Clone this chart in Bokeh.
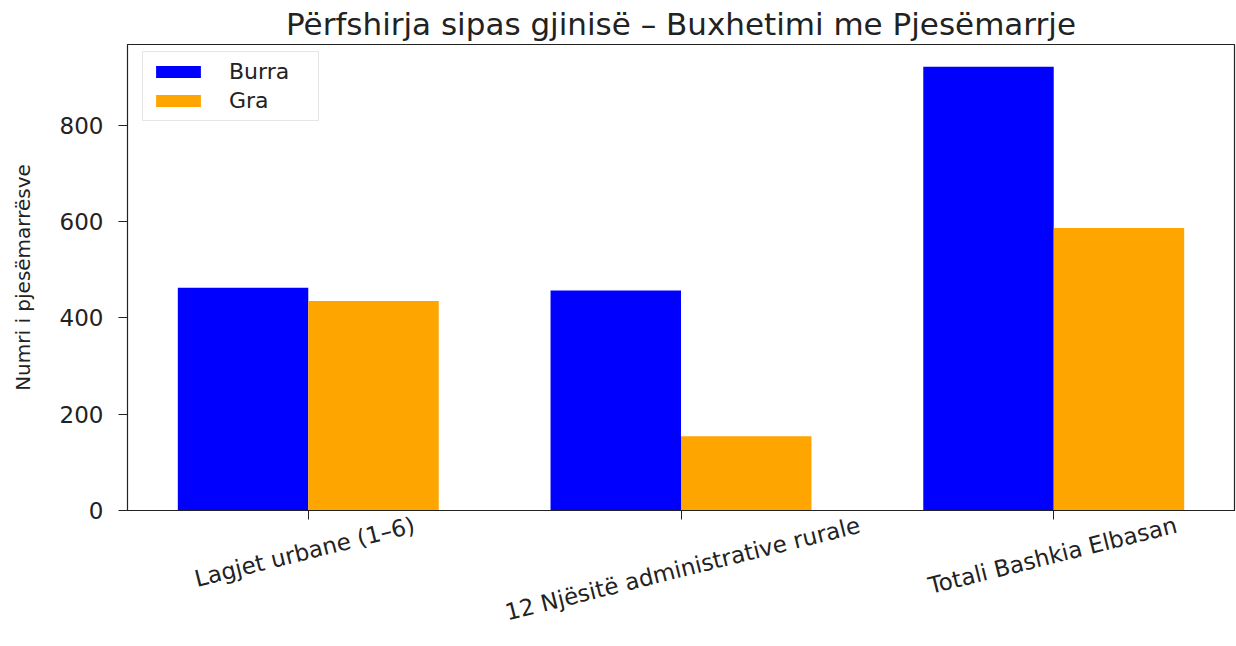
import math
from bokeh.plotting import figure
from bokeh.models import Range1d, FixedTicker, Legend, LegendItem, ColumnDataSource, LinearAxis
from bokeh.embed import file_html
from bokeh.resources import INLINE

# ---- data ----
categories = ["Lagjet urbane (1–6)", "12 Njësitë administrative rurale", "Totali Bashkia Elbasan"]
burra = [463, 457, 922]
gra = [435, 154, 587]
y_ticks = [0, 200, 400, 600, 800]
series_names = ["Burra", "Gra"]
colors = ["#0000ff", "#ffa500"]

FONT = "DejaVu Sans"
TXT = "#222222"
W, H = 1236, 646
BL, BR, BT, BB = 127, 2, 44, 136
bar_w = 0.35
n = len(categories)
idx = list(range(n))

x_lo = -bar_w - 0.05 * (n - 1 + 2 * bar_w)
x_hi = (n - 1) + bar_w + 0.05 * (n - 1 + 2 * bar_w)
y_hi = max(burra + gra) * 1.05

p = figure(width=W, height=H, output_backend="svg", toolbar_location=None,
           x_range=Range1d(x_lo, x_hi), y_range=Range1d(0, y_hi),
           min_border_left=BL, min_border_right=BR, min_border_top=BT, min_border_bottom=BB,
           title="Përfshirja sipas gjinisë – Buxhetimi me Pjesëmarrje")

p.title.align = "center"
p.title.text_font = FONT
p.title.text_font_size = "31px"
p.title.text_font_style = "normal"
p.title.text_color = TXT
p.title.standoff = 6

src_b = ColumnDataSource(dict(x=[i - bar_w / 2 for i in idx], top=burra))
src_g = ColumnDataSource(dict(x=[i + bar_w / 2 for i in idx], top=gra))
rb = p.vbar(x="x", top="top", width=bar_w, source=src_b, fill_color=colors[0], line_color=None)
rg = p.vbar(x="x", top="top", width=bar_w, source=src_g, fill_color=colors[1], line_color=None)

p.xgrid.visible = False
p.ygrid.visible = False
p.outline_line_color = TXT
p.outline_line_width = 1.2
p.background_fill_color = "white"
p.border_fill_color = "white"

# y axis
yax = p.yaxis[0]
yax.ticker = FixedTicker(ticks=y_ticks)
yax.minor_tick_line_color = None
yax.major_tick_in = 0
yax.major_tick_out = 9
yax.major_label_standoff = 15
yax.major_label_text_font = FONT
yax.major_label_text_font_size = "23px"
yax.major_label_text_color = TXT
yax.axis_line_color = TXT
yax.major_tick_line_color = TXT
yax.axis_label = "Numri i pjesëmarrësve"
yax.axis_label_text_font = FONT
yax.axis_label_text_font_size = "20px"
yax.axis_label_text_font_style = "normal"
yax.axis_label_text_color = TXT
yax.axis_label_standoff = 22

# x axis: tick marks only
xax = p.xaxis[0]
xax.ticker = FixedTicker(ticks=idx)
xax.major_label_overrides = {i: "" for i in idx}
xax.major_label_text_font_size = "0px"
xax.major_label_standoff = 0
xax.minor_tick_line_color = None
xax.major_tick_in = 0
xax.major_tick_out = 9
xax.axis_line_color = TXT
xax.major_tick_line_color = TXT

# category labels: rotated, centred under the ticks (Bokeh anchors rotated
# labels at their top-right corner, so shift the anchor by half the extent)
fs = 23
ang = math.radians(14)
px_per_unit = (W - BL - BR) / (x_hi - x_lo)
lab_ticks = []
overrides = {}
for i, c in enumerate(categories):
    L = len(c) * 0.5 * fs
    shift_px = L * math.cos(ang) / 2
    t = round(i + shift_px / px_per_unit, 6)
    lab_ticks.append(t)
    overrides[t] = c

cax = LinearAxis(ticker=FixedTicker(ticks=lab_ticks), major_label_overrides=overrides,
                 major_label_orientation=ang, major_label_text_font=FONT,
                 major_label_text_font_size=f"{fs}px", major_label_text_color=TXT,
                 major_label_standoff=5, major_tick_in=0, major_tick_out=0,
                 minor_tick_line_color=None, major_tick_line_color=None, axis_line_color=None)
p.add_layout(cax, "below")

legend = Legend(items=[LegendItem(label=series_names[0], renderers=[rb]),
                       LegendItem(label=series_names[1], renderers=[rg])],
                location=(15, 389), glyph_width=56, glyph_height=15, label_standoff=23,
                label_width=82, padding=7, spacing=4, label_text_font=FONT,
                label_text_font_size="22px", label_text_color=TXT,
                border_line_color="#cccccc", border_line_width=1,
                background_fill_alpha=0.8, margin=0)
p.add_layout(legend)

open("out.html", "w").write(file_html(p, INLINE))
